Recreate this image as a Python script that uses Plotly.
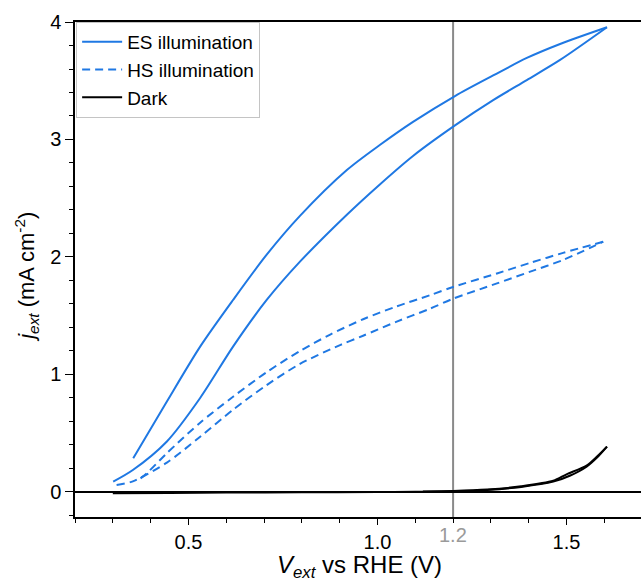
import plotly.graph_objects as go

# ES illumination (forward/lower branch, then reverse/upper branch)
es_fwd_v = [0.301, 0.353, 0.443, 0.531, 0.618, 0.707, 0.795, 0.919, 1.007, 1.094, 1.205, 1.306, 1.395, 1.483, 1.607]
es_fwd_j = [0.088, 0.187, 0.43, 0.80, 1.237, 1.634, 1.96, 2.36, 2.62, 2.86, 3.12, 3.335, 3.506, 3.677, 3.955]
es_rev_v = [1.607, 1.483, 1.395, 1.306, 1.205, 1.094, 1.007, 0.919, 0.795, 0.707, 0.618, 0.531, 0.443, 0.354]
es_rev_j = [3.955, 3.813, 3.694, 3.545, 3.37, 3.15, 2.955, 2.74, 2.35, 2.02, 1.634, 1.237, 0.77, 0.287]

# HS illumination
hs_fwd_v = [0.310, 0.353, 0.443, 0.531, 0.618, 0.707, 0.795, 0.901, 0.962, 1.051, 1.139, 1.200, 1.316, 1.404, 1.491, 1.597]
hs_fwd_j = [0.060, 0.090, 0.250, 0.470, 0.700, 0.910, 1.090, 1.250, 1.330, 1.450, 1.560, 1.645, 1.775, 1.875, 1.975, 2.130]
hs_rev_v = [1.597, 1.491, 1.404, 1.316, 1.200, 1.139, 1.051, 0.962, 0.875, 0.795, 0.707, 0.618, 0.531, 0.443, 0.390, 0.367]
hs_rev_j = [2.130, 2.035, 1.950, 1.860, 1.745, 1.675, 1.580, 1.470, 1.340, 1.200, 1.020, 0.810, 0.590, 0.330, 0.160, 0.10]

# Dark
dark_fwd_v = [0.30, 0.45, 0.60, 0.80, 1.00, 1.10, 1.20, 1.29, 1.38, 1.465, 1.51, 1.553, 1.58, 1.607]
dark_fwd_j = [-0.010, -0.008, -0.005, -0.003, 0.0, 0.002, 0.006, 0.017, 0.043, 0.088, 0.14, 0.215, 0.29, 0.386]
dark_rev_v = [1.607, 1.58, 1.553, 1.50, 1.465, 1.38, 1.29, 1.20, 1.12]
dark_rev_j = [0.386, 0.30, 0.225, 0.15, 0.095, 0.048, 0.020, 0.008, 0.004]

marker_v = 1.2
x_ticks = [0.5, 1.0, 1.5]
x_tick_labels = ["0.5", "1.0", "1.5"]
y_ticks = [0, 1, 2, 3, 4]

blue = "#1f78e3"
font_family = "Arial, Liberation Sans, sans-serif"

fig = go.Figure()


def add_loop(name, fwd_v, fwd_j, rev_v, rev_j, line):
    fig.add_trace(go.Scatter(x=fwd_v, y=fwd_j, mode="lines", name=name, legendgroup=name,
                             line=dict(shape="spline", smoothing=0.8, **line)))
    fig.add_trace(go.Scatter(x=rev_v, y=rev_j, mode="lines", name=name, legendgroup=name,
                             showlegend=False, line=dict(shape="spline", smoothing=0.8, **line)))


add_loop("ES illumination", es_fwd_v, es_fwd_j, es_rev_v, es_rev_j, dict(color=blue, width=2))
add_loop("HS illumination", hs_fwd_v, hs_fwd_j, hs_rev_v, hs_rev_j, dict(color=blue, width=2, dash="8px,5px"))
add_loop("Dark", dark_fwd_v, dark_fwd_j, dark_rev_v, dark_rev_j, dict(color="black", width=2))

fig.add_shape(type="line", xref="x", yref="paper", x0=marker_v, x1=marker_v, y0=0, y1=1,
              line=dict(color="#8a8a8a", width=2), layer="below")
fig.add_annotation(x=marker_v, xref="x", y=0, yref="paper", yshift=-5, text="1.2",
                   showarrow=False, yanchor="top", font=dict(size=20, color="#9a9a9a", family=font_family))

# axis titles as annotations for exact placement
fig.add_annotation(x=0.5035, xref="paper", y=-0.099, yref="paper", yanchor="middle", xanchor="center",
                   text="<i>V</i><sub><i>ext</i></sub> vs RHE (V)", showarrow=False,
                   font=dict(size=24, family=font_family, color="black"))
fig.add_annotation(x=-0.085, xref="paper", y=0.485, yref="paper", yanchor="middle", xanchor="center",
                   text="<i>j</i><sub><i>ext</i></sub> (mA cm<sup>-2</sup>)", showarrow=False, textangle=-90,
                   font=dict(size=22, family=font_family, color="black"))

fig.update_layout(
    width=641, height=582,
    margin=dict(l=75, r=0, t=22, b=65, autoexpand=False),
    plot_bgcolor="white", paper_bgcolor="white",
    font=dict(family=font_family, size=20, color="black"),
    showlegend=True,
    legend=dict(x=0.002, y=1, xanchor="left", yanchor="top", bgcolor="white",
                bordercolor="#c4c4c4", borderwidth=1, font=dict(size=19),
                tracegroupgap=0, itemwidth=40),
    xaxis=dict(range=[0.2, 1.697], showgrid=False, zeroline=False, automargin=False,
               showline=True, linecolor="black", linewidth=1.5, mirror=True,
               ticks="outside", ticklen=6, tickwidth=1, tickcolor="black",
               tickvals=x_ticks, ticktext=x_tick_labels,
               minor=dict(dtick=0.1, tick0=0.2, ticks="outside", ticklen=4, tickcolor="black", showgrid=False)),
    yaxis=dict(range=[-0.213, 4.0], showgrid=False, automargin=False,
               zeroline=True, zerolinecolor="black", zerolinewidth=1.5,
               showline=True, linecolor="black", linewidth=1.5,
               ticks="outside", ticklen=8, tickwidth=1, tickcolor="black",
               tickvals=y_ticks,
               minor=dict(dtick=0.2, tick0=0, ticks="outside", ticklen=4, tickcolor="black", showgrid=False)),
)

# remove the default page margin so the figure fills the window exactly
fig.write_html("out.html", config={"displayModeBar": False},
               post_script="document.body.style.margin='0';document.body.style.overflow='hidden';")
